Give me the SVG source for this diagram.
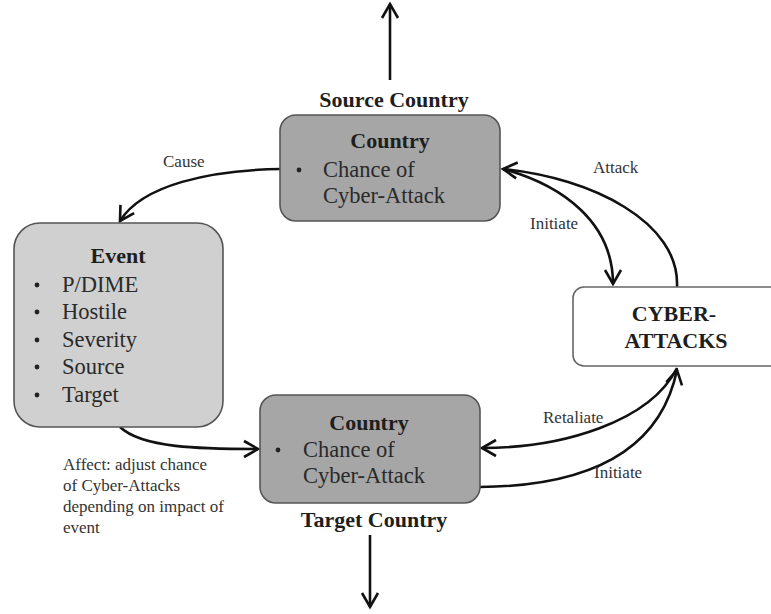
<svg xmlns="http://www.w3.org/2000/svg" width="771" height="614" viewBox="0 0 771 614">
  <defs>
    <marker id="arrow" markerUnits="userSpaceOnUse" markerWidth="30" markerHeight="30" viewBox="-20 -15 30 30" refX="0" refY="0" orient="auto">
      <path d="M-14,-8 L0,0 L-14,8" fill="none" stroke="#111" stroke-width="2.6" stroke-linejoin="miter"/>
    </marker>
    <style>
      .title { font-family: "Liberation Serif", "Times New Roman", serif; font-weight: bold; font-size: 22px; fill: #1e1e1e; }
      .body { font-family: "Liberation Serif", "Times New Roman", serif; font-size: 22.5px; fill: #2a2a2a; }
      .label { font-family: "Liberation Serif", "Times New Roman", serif; font-size: 17px; fill: #333; }
      .country { fill: #a6a6a6; stroke: #555; stroke-width: 1.6; }
      .event { fill: #d0d0d0; stroke: #555; stroke-width: 1.6; }
      .cyber { fill: #fff; stroke: #666; stroke-width: 1.6; }
      .conn { fill: none; stroke: #111; stroke-width: 2.6; marker-end: url(#arrow); }
      .dot { fill: #222; }
    </style>
  </defs>
  <rect width="771" height="614" fill="#fff"/>

  <!-- connectors -->
  <g id="connectors">
    <path class="conn" d="M390,80 L390,4"/>
    <path class="conn" d="M370,535 L370,607"/>
    <path class="conn" d="M281,169 C210,170 142,185 120,221"/>
    <path class="conn" d="M677,287 C680,222 592,178 503,169"/>
    <path class="conn" d="M503,169 C562,185 613,222 613,284"/>
    <path class="conn" d="M677,368 C650,422 562,448 482,448"/>
    <path class="conn" d="M480,487 C602,486 662,442 677,370"/>
    <path class="conn" d="M120,427 C142,448 200,449 258,449"/>
    <text class="label" x="163" y="167">Cause</text>
    <text class="label" x="593" y="173">Attack</text>
    <text class="label" x="530" y="229">Initiate</text>
    <text class="label" x="543" y="423">Retaliate</text>
    <text class="label" x="594" y="478">Initiate</text>
    <text class="label" x="63" y="470">Affect: adjust chance</text>
    <text class="label" x="63" y="491">of Cyber-Attacks</text>
    <text class="label" x="63" y="512">depending on impact of</text>
    <text class="label" x="63" y="533">event</text>
  </g>

  <!-- source country -->
  <g id="source-country">
    <text class="title" x="394" y="107" text-anchor="middle">Source Country</text>
    <rect class="country" x="280" y="115" width="220" height="106" rx="16"/>
    <text class="title" x="390" y="148" text-anchor="middle">Country</text>
    <circle class="dot" cx="299" cy="170" r="2.4"/>
    <text class="body" x="323" y="177">Chance of</text>
    <text class="body" x="323" y="203">Cyber-Attack</text>
  </g>

  <!-- event -->
  <g id="event">
    <rect class="event" x="14" y="223" width="209" height="204" rx="26"/>
    <text class="title" x="118" y="263" text-anchor="middle">Event</text>
    <circle class="dot" cx="37" cy="285" r="2.4"/>
    <text class="body" x="62" y="292">P/DIME</text>
    <circle class="dot" cx="37" cy="312" r="2.4"/>
    <text class="body" x="62" y="319">Hostile</text>
    <circle class="dot" cx="37" cy="340" r="2.4"/>
    <text class="body" x="62" y="347">Severity</text>
    <circle class="dot" cx="37" cy="367" r="2.4"/>
    <text class="body" x="62" y="374">Source</text>
    <circle class="dot" cx="37" cy="395" r="2.4"/>
    <text class="body" x="62" y="402">Target</text>
  </g>

  <!-- target country -->
  <g id="target-country">
    <rect class="country" x="260" y="395" width="220" height="108" rx="16"/>
    <text class="title" x="369" y="430" text-anchor="middle">Country</text>
    <circle class="dot" cx="278" cy="450" r="2.4"/>
    <text class="body" x="303" y="457">Chance of</text>
    <text class="body" x="303" y="483">Cyber-Attack</text>
    <text class="title" x="374" y="527" text-anchor="middle">Target Country</text>
  </g>

  <!-- cyber-attacks -->
  <g id="cyber-attacks">
    <rect class="cyber" x="573" y="287" width="220" height="79" rx="11"/>
    <text class="title" x="674" y="321" text-anchor="middle">CYBER-</text>
    <text class="title" x="676" y="348" text-anchor="middle">ATTACKS</text>
  </g>
</svg>
